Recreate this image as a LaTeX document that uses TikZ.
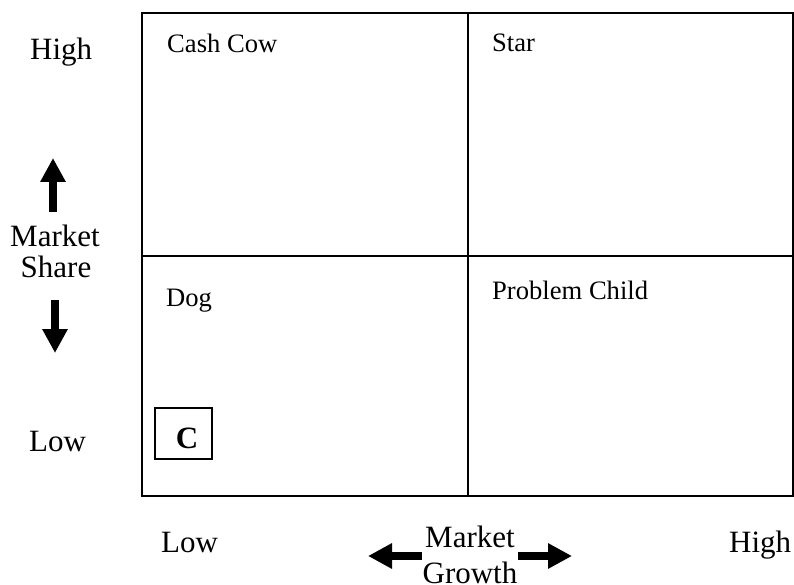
\documentclass[tikz,border=0pt]{standalone}
\usepackage{fontspec}
\setmainfont{Liberation Serif}
\usetikzlibrary{arrows.meta}
\tikzset{
  big/.style={inner sep=0pt, font=\fontsize{31}{36}\selectfont},
  cell/.style={inner sep=0pt, anchor=base west, font=\fontsize{26.6}{31}\selectfont},
  gridline/.style={line width=2.4pt},
  blockarrow/.style={line width=8pt, -{Triangle[width=24pt,length=24pt]}},
}
\begin{document}
\begin{tikzpicture}[x=1pt,y=-1pt]
\useasboundingbox (0,0) rectangle (794,585);
% grid
\draw[gridline] (142,13) rectangle (793,496);
\draw[gridline] (468,13) -- (468,496);
\draw[gridline] (142,256) -- (793,256);
% cell labels
\node[cell] (cashcow) at (167,53) {Cash Cow};
\node[cell] (star) at (492,52) {Star};
\node[cell] (dog) at (166,306) {Dog};
\node[cell] (problem) at (492,299) {Problem Child};
% C box
\draw[line width=1.6pt] (155,408) rectangle (212,459);
\node[big, anchor=base, font=\fontsize{31}{36}\selectfont\bfseries] (c) at (187,448) {C};
% left axis
\node[big, anchor=base west] (high) at (30,60) {High};
\node[big, anchor=base] (market1) at (55,247) {Market};
\node[big, anchor=base] (share) at (56,277) {Share};
\node[big, anchor=base west] (low) at (29,451) {Low};
\coordinate (upT) at (53,212);
\coordinate (upH) at (53,158);
\coordinate (dnT) at (55,300);
\coordinate (dnH) at (55,353);
\draw[blockarrow] (upT) -- (upH);
\draw[blockarrow] (dnT) -- (dnH);
% bottom axis
\node[big, anchor=base west] (low2) at (161,552) {Low};
\node[big, anchor=base west] (high2) at (729,552) {High};
\node[big, anchor=base] (market2) at (470,547) {Market};
\node[big, anchor=base] (growth) at (470,583) {Growth};
\coordinate (lfT) at (422,556);
\coordinate (lfH) at (368,556);
\coordinate (rtT) at (518,556);
\coordinate (rtH) at (572,556);
\draw[blockarrow] (lfT) -- (lfH);
\draw[blockarrow] (rtT) -- (rtH);
\end{tikzpicture}
\end{document}
